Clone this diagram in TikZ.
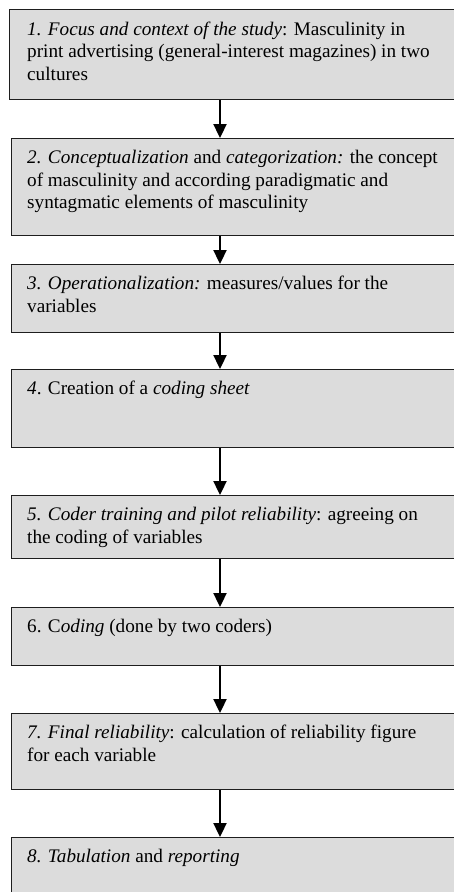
\documentclass[tikz,border=0pt]{standalone}
\usepackage{fontspec}
\setmainfont{Liberation Serif}
\usetikzlibrary{arrows.meta}
\definecolor{boxfill}{RGB}{220,220,220}
\definecolor{boxline}{RGB}{30,30,30}
\begin{document}
\begin{tikzpicture}[x=1pt,y=-1pt,
  stepbox/.style={draw=boxline, line width=1.3pt, fill=boxfill, rectangle,
    inner sep=0pt, anchor=north west, minimum width=460pt},
  steptext/.style={anchor=north west, inner sep=0pt, align=left,
    font=\fontsize{19.2}{22.5}\selectfont},
  flow/.style={line width=2.3pt, -{Triangle[width=13pt,length=14pt]}}]
\clip (0,0) rectangle (454,892);
\fill[white] (0,0) rectangle (454,892);
\coordinate (ax) at (220,0);

% step boxes (top edge y, height)
\node[stepbox, minimum height=90pt] (b1) at (9,9) {};
\node[stepbox, minimum height=97pt] (b2) at (11,138) {};
\node[stepbox, minimum height=68pt] (b3) at (11,264) {};
\node[stepbox, minimum height=78pt] (b4) at (11,369) {};
\node[stepbox, minimum height=63pt] (b5) at (11,495) {};
\node[stepbox, minimum height=58pt] (b6) at (11,607) {};
\node[stepbox, minimum height=76pt] (b7) at (11,713) {};
\node[stepbox, minimum height=80pt] (b8) at (11,837) {};

% step texts
\node[steptext] (t1) at (27,19.3) {\strut\textit{1. Focus and context of the study}: Masculinity in\\
  print advertising (general-interest magazines) in two\\ cultures};
\node[steptext] (t2) at (27,147.8) {\strut\textit{2. Conceptualization} and \textit{categorization:} the concept\\
  of masculinity and according paradigmatic and\\ syntagmatic elements of masculinity};
\node[steptext] (t3) at (27,273.8) {\strut\textit{3. Operationalization:} measures/values for the\\ variables};
\node[steptext] (t4) at (27,378.8) {\strut\textit{4}. Creation of a \textit{coding sheet}};
\node[steptext] (t5) at (27,504.8) {\strut\textit{5. Coder training and pilot reliability}: agreeing on\\ the coding of variables};
\node[steptext] (t6) at (27,616.8) {\strut 6. C\textit{oding} (done by two coders)};
\node[steptext] (t7) at (27,722.8) {\strut\textit{7. Final reliability}: calculation of reliability figure\\ for each variable};
\node[steptext] (t8) at (27,846.8) {\strut\textit{8. Tabulation} and \textit{reporting}};

% connectors
\draw[flow] (b1.south -| ax) -- (b2.north -| ax);
\draw[flow] (b2.south -| ax) -- (b3.north -| ax);
\draw[flow] (b3.south -| ax) -- (b4.north -| ax);
\draw[flow] (b4.south -| ax) -- (b5.north -| ax);
\draw[flow] (b5.south -| ax) -- (b6.north -| ax);
\draw[flow] (b6.south -| ax) -- (b7.north -| ax);
\draw[flow] (b7.south -| ax) -- (b8.north -| ax);
\end{tikzpicture}
\end{document}
